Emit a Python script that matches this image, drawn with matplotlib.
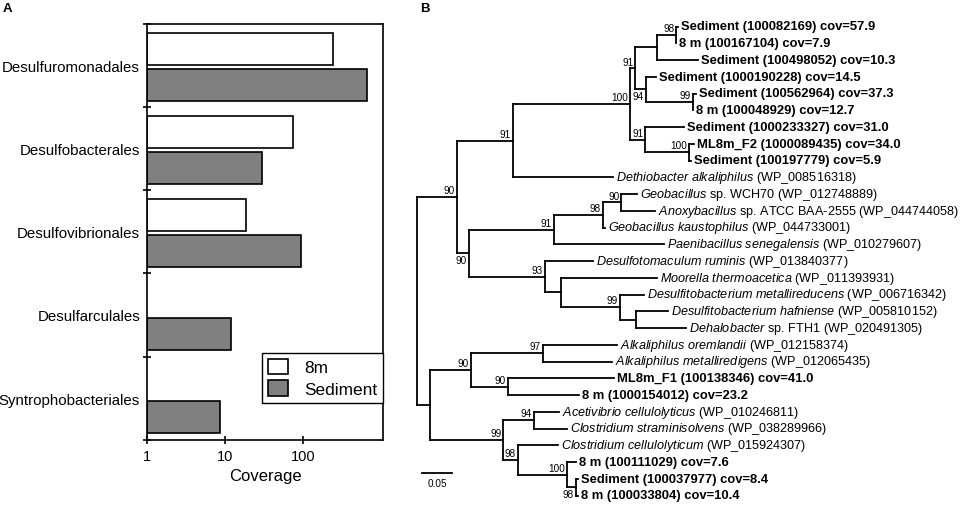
import numpy as np
import matplotlib
matplotlib.use('Agg')
import matplotlib.pyplot as plt
from matplotlib.collections import LineCollection

plt.rcParams['font.family'] = 'Liberation Sans'
plt.rcParams['mathtext.fontset'] = 'custom'
plt.rcParams['mathtext.rm'] = 'Liberation Sans'
plt.rcParams['mathtext.it'] = 'Liberation Sans:italic'
plt.rcParams['mathtext.bf'] = 'Liberation Sans:bold'

# ---- panel A: coverage per order (log scale) ----
orders = ['Desulfuromonadales', 'Desulfobacterales', 'Desulfovibrionales',
          'Desulfarculales', 'Syntrophobacteriales']
cov_8m = [242, 73, 18.5, 0, 0]
cov_sed = [647, 29.6, 94, 11.9, 8.6]
xticks_a = [1, 10, 100]

# ---- panel B: tree (leaf numbers refer to leaf_names, * = support drawn below) ----
tree_newick = ("(((((((0:0.0036,1:0)98:0.0311,2:0.0672):0.0357,(3:0.0156,(4:0.0052,5:0)99:0.0767)94*:0.0172)91:0.0085,"
               "(6:0.0625,(7:0.0079,8:0.003)100:0.0711)91:0.0248)100:0.1931,9:0.1652)91:0.0915,"
               "((((10:0.0254,11:0.0551)90:0.0308,12:0.004)98:0.0802,13:0.1808)91:0.1387,"
               "(14:0.08,(15:0.157,(16:0.0402,(17:0.0521,18:0.0818):0.0266)99:0.0961):0.0267)93:0.1239)90*:0.0202)90:0.0646,"
               "(((19:0.1218,20:0.113)97:0.1172,(21:0.1746,22:0.1166)90:0.0597)90:0.0682,"
               "((23:0.0411,24:0.0543)94:0.05,(25:0.0662,(26:0.0149,(27:0.003,28:0.003)98*:0.0138)100:0.0816)98:0.0233)99:0.1211):0.02);")

leaf_names = [
    'Sediment (100082169) cov=57.9',
    '8 m (100167104) cov=7.9',
    'Sediment (100498052) cov=10.3',
    'Sediment (1000190228) cov=14.5',
    'Sediment (100562964) cov=37.3',
    '8 m (100048929) cov=12.7',
    'Sediment (1000233327) cov=31.0',
    'ML8m_F2 (1000089435) cov=34.0',
    'Sediment (100197779) cov=5.9',
    '*Dethiobacter alkaliphilus* (WP_008516318)',
    '*Geobacillus* sp. WCH70 (WP_012748889)',
    '*Anoxybacillus* sp. ATCC BAA-2555 (WP_044744058)',
    '*Geobacillus kaustophilus* (WP_044733001)',
    '*Paenibacillus senegalensis* (WP_010279607)',
    '*Desulfotomaculum ruminis* (WP_013840377)',
    '*Moorella thermoacetica* (WP_011393931)',
    '*Desulfitobacterium metallireducens* (WP_006716342)',
    '*Desulfitobacterium hafniense* (WP_005810152)',
    '*Dehalobacter* sp. FTH1 (WP_020491305)',
    '*Alkaliphilus oremlandii* (WP_012158374)',
    '*Alkaliphilus metalliredigens* (WP_012065435)',
    'ML8m_F1 (100138346) cov=41.0',
    '8 m (1000154012) cov=23.2',
    '*Acetivibrio cellulolyticus* (WP_010246811)',
    '*Clostridium straminisolvens* (WP_038289966)',
    '*Clostridium cellulolyticum* (WP_015924307)',
    '8 m (100111029) cov=7.6',
    'Sediment (100037977) cov=8.4',
    '8 m (100033804) cov=10.4',
]
scale_len = 0.05


def parse(s, i=0):
    node = {'children': []}
    if s[i] == '(':
        i += 1
        while True:
            child, i = parse(s, i)
            node['children'].append(child)
            c = s[i]
            i += 1
            if c == ')':
                break
    j = i
    while s[i] not in ':,);':
        i += 1
    node['label'] = s[j:i]
    node['length'] = 0.0
    if s[i] == ':':
        i += 1
        j = i
        while s[i] not in ',);':
            i += 1
        node['length'] = float(s[j:i])
    return node, i


def layout(node, x0=0.0):
    node['x'] = x0 + node['length']
    if node['children']:
        for c in node['children']:
            layout(c, node['x'])
        node['y'] = (node['children'][0]['y'] + node['children'][-1]['y']) / 2
    else:
        node['y'] = int(node['label'])


def walk(node):
    yield node
    for c in node['children']:
        yield from walk(c)


def fmt(name):
    if 'cov=' in name:
        return name, 'bold', 9.4
    parts = name.split('*')
    return r'$\mathit{' + parts[1].replace(' ', r'\ ') + '}$' + parts[2], 'normal', 9.05


fig = plt.figure(figsize=(9.64, 5.06), dpi=100)

# ---------- A ----------
ax = fig.add_axes([147/964, 1-440.7/506, 236/964, 415.7/506])
ax.set_xscale('log')
n = len(orders)
y = np.arange(n)
v8 = np.array(cov_8m, float)
vs = np.array(cov_sed, float)
m8 = v8 > 0
ax.barh(y[m8] + 0.295, v8[m8] - 1, left=1, height=0.385, color='white',
        edgecolor='black', linewidth=1.2, label='8m')
ax.barh(y + 0.728, vs - 1, left=1, height=0.385, color='#808080',
        edgecolor='black', linewidth=1.2, label='Sediment')
ax.set_xlim(1, 1050)
ax.set_ylim(n, 0)
ax.set_xticks(xticks_a)
ax.set_xticklabels([str(t) for t in xticks_a], fontsize=10.5)
ax.xaxis.set_minor_locator(matplotlib.ticker.NullLocator())
ax.set_yticks(np.arange(n + 1))
ax.set_yticklabels([])
ax.set_yticks(y + 0.5, minor=True)
ax.set_yticklabels(orders, minor=True, fontsize=10.8)
ax.tick_params(axis='y', which='minor', length=0, pad=5)
ax.tick_params(axis='both', which='major', direction='inout', length=6, width=1.2, pad=4)
ax.set_xlabel('Coverage', fontsize=12, labelpad=3)
for s in ax.spines.values():
    s.set_linewidth(1.2)
leg = ax.legend(loc='lower right', bbox_to_anchor=(1.0, 0.088), borderaxespad=0,
                fontsize=12.4, fancybox=False, framealpha=1, edgecolor='black',
                handlelength=1.2, handleheight=1.0, handletextpad=0.9,
                labelspacing=0.3, borderpad=0.35)
leg.get_frame().set_linewidth(1.0)

fig.text(3/964, 1-9/506, 'A', fontsize=9.5, fontweight='bold', va='center')
fig.text(420/964, 1-9/506, 'B', fontsize=9.5, fontweight='bold', va='center')

# ---------- B ----------
px = 610.0   # pixels per branch unit
dy = 16.75   # pixels per leaf
axb = fig.add_axes([400/964, 0, 564/964, 1])
axb.set_xlim(-17.3/px, 546.7/px)
axb.set_ylim((506-27.5)/dy, -27.5/dy)
axb.axis('off')

root, _ = parse(tree_newick)
layout(root)
segs = []
for nd in walk(root):
    kids = nd['children']
    if not kids:
        continue
    segs.append([(nd['x'], kids[0]['y']), (nd['x'], kids[-1]['y'])])
    for c in kids:
        segs.append([(nd['x'], c['y']), (c['x'], c['y'])])
axb.add_collection(LineCollection(segs, colors='black', linewidths=1.3, capstyle='projecting'))

for nd in walk(root):
    if nd['children'] and nd['label']:
        lab = nd['label']
        if lab.endswith('*'):
            axb.text(nd['x'] - 2/px, nd['y'] + 0.12, lab[:-1], fontsize=7.2, ha='right', va='top')
        else:
            axb.text(nd['x'] - 2/px, nd['y'] - 0.1, lab, fontsize=7.2, ha='right', va='bottom')
    elif not nd['children']:
        txt, w, fs = fmt(leaf_names[int(nd['label'])])
        axb.text(nd['x'] + 3/px, nd['y'], txt, fontsize=fs, fontweight=w,
                 ha='left', va='center')

sx = 4.4/px
sy = (474.3-27.5)/dy
axb.plot([sx, sx + scale_len], [sy, sy], color='black', linewidth=1.3)
axb.text(sx + scale_len/2, sy + 0.3, '0.05', fontsize=7.2, ha='center', va='top')

fig.savefig('out.png', dpi=100)
